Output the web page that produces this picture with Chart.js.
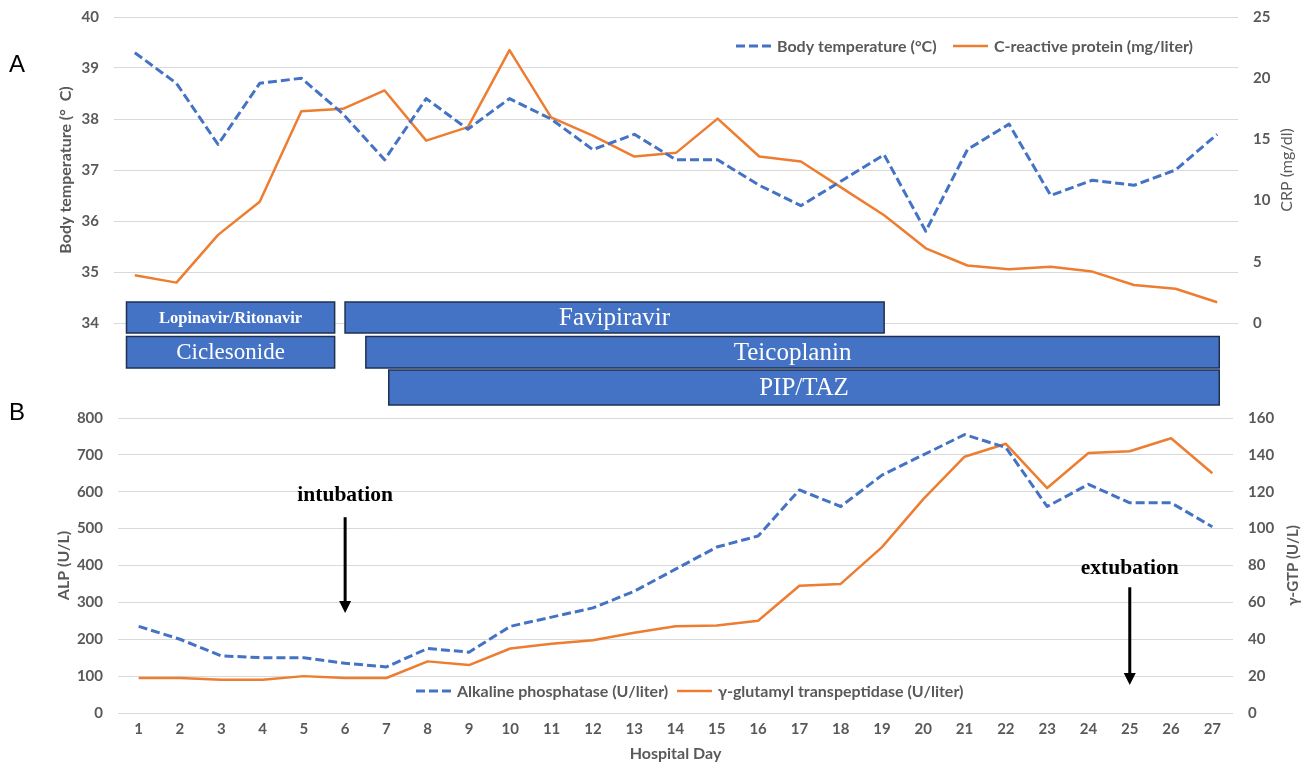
<!DOCTYPE html>
<html>
<head>
<meta charset="utf-8">
<script src="https://cdn.jsdelivr.net/npm/chart.js@4.4.0/dist/chart.umd.min.js"></script>
<style>
  body { margin: 0; background: #fff; width: 1312px; height: 764px; position: relative; overflow: hidden; }
  canvas { position: absolute; left: 0; }
  #topChart { top: -7px; }
  #bottomChart { top: 394px; }
  .panel { position: absolute; font: 24px/24px "Liberation Sans", Arial, sans-serif; color: #000; z-index: 2; }
</style>
</head>
<body>
<canvas id="topChart" width="1312" height="417"></canvas>
<canvas id="bottomChart" width="1312" height="370"></canvas>
<div class="panel" style="left:9px; top:52px;">A</div>
<div class="panel" style="left:9px; top:400px;">B</div>
<script>
// hospital days
const days = ['1','2','3','4','5','6','7','8','9','10','11','12','13','14','15','16','17','18','19','20','21','22','23','24','25','26','27'];

// panel A
const bodyTemp = [39.3, 38.7, 37.5, 38.7, 38.8, 38.1, 37.2, 38.4, 37.8, 38.4, 38.0, 37.4, 37.7, 37.2, 37.2, 36.7, 36.3, 36.8, 37.3, 35.8, 37.4, 37.9, 36.5, 36.8, 36.7, 37.0, 37.7];
const crp = [3.9, 3.3, 7.2, 9.9, 17.3, 17.5, 19.0, 14.9, 16.0, 22.3, 16.8, 15.3, 13.6, 13.9, 16.7, 13.6, 13.2, 11.0, 8.8, 6.1, 4.7, 4.4, 4.6, 4.2, 3.1, 2.8, 1.7];

// drugs (start / end in hospital days)
const drugNames = ['Lopinavir/Ritonavir', 'Ciclesonide', 'Favipiravir', 'Teicoplanin', 'PIP/TAZ'];
const drugStart = [0.8, 0.8, 6.05, 6.55, 7.1];
const drugEnd = [5.8, 5.8, 19.0, 27.05, 27.05];
const drugRow = [0, 1, 0, 1, 2];

// panel B
const alp = [235, 200, 155, 150, 150, 135, 125, 175, 165, 235, 260, 285, 330, 390, 450, 480, 605, 560, 645, 700, 755, 720, 560, 620, 570, 570, 505];
const ggt = [19, 19, 18, 18, 20, 19, 19, 28, 26, 35, 37.5, 39.5, 43.5, 47, 47.5, 50, 69, 70, 90, 116, 139, 146, 122, 141, 142, 149, 130];

const annotDays = [6, 25];
const annotLabels = ['intubation', 'extubation'];

const BLUE = '#4472C4';
const ORANGE = '#ED7D31';
const GREY = '#595959';
const GRID = '#D9D9D9';

Chart.defaults.font.family = 'Lato, "Open Sans", sans-serif';
Chart.defaults.color = GREY;

// legend drawn as a line sample + label, inside the plot
const lineLegend = {
    id: 'lineLegend',
    afterDraw(chart, args, opts) {
        const ctx = chart.ctx;
        ctx.save();
        ctx.font = opts.font;
        ctx.textBaseline = 'middle';
        chart.data.datasets.forEach((ds, i) => {
            const x = opts.xs[i];
            ctx.strokeStyle = ds.borderColor;
            ctx.lineWidth = ds.borderWidth;
            ctx.setLineDash(ds.borderDash || []);
            ctx.beginPath();
            ctx.moveTo(x, opts.y);
            ctx.lineTo(x + opts.sample, opts.y);
            ctx.stroke();
            ctx.fillStyle = GREY;
            ctx.fillText(ds.label, x + opts.sample + 6, opts.y + 1);
        });
        ctx.restore();
    }
};

// right axis title, reading bottom to top
const rightTitle = {
    id: 'rightTitle',
    afterDraw(chart, args, opts) {
        const ctx = chart.ctx, area = chart.chartArea;
        ctx.save();
        ctx.translate(area.right + opts.offset, (area.top + area.bottom) / 2);
        ctx.rotate(-Math.PI / 2);
        ctx.font = opts.font;
        ctx.fillStyle = GREY;
        ctx.textAlign = 'center';
        ctx.textBaseline = 'middle';
        ctx.fillText(opts.text, 0, 0);
        ctx.restore();
    }
};

// treatment boxes under panel A
const drugBars = {
    id: 'drugBars',
    afterDraw(chart, args, opts) {
        const ctx = chart.ctx, xs = chart.scales.x, base = chart.chartArea.bottom;
        ctx.save();
        drugNames.forEach((name, i) => {
            const row = opts.rows[drugRow[i]];
            const x0 = xs.getPixelForValue(drugStart[i] - 1);
            const x1 = xs.getPixelForValue(drugEnd[i] - 1);
            const y0 = base + row.top;
            ctx.fillStyle = BLUE;
            ctx.fillRect(x0, y0, x1 - x0, row.height);
            ctx.strokeStyle = '#1F3151';
            ctx.lineWidth = 1.5;
            ctx.strokeRect(x0, y0, x1 - x0, row.height);
            ctx.fillStyle = '#fff';
            ctx.font = opts.fonts[name] || opts.font;
            ctx.textAlign = 'center';
            ctx.textBaseline = 'middle';
            ctx.fillText(name, (x0 + x1) / 2, y0 + row.height / 2 + 1);
        });
        ctx.restore();
    }
};

// intubation / extubation arrows on panel B
const eventArrows = {
    id: 'eventArrows',
    afterDraw(chart, args, opts) {
        const ctx = chart.ctx, xs = chart.scales.x, ys = chart.scales.y;
        ctx.save();
        annotDays.forEach((d, i) => {
            const lv = opts.levels[i];
            const x = xs.getPixelForValue(d - 1);
            ctx.fillStyle = '#000';
            ctx.strokeStyle = '#000';
            ctx.font = opts.font;
            ctx.textAlign = 'center';
            ctx.textBaseline = 'middle';
            ctx.fillText(annotLabels[i], x, ys.getPixelForValue(lv.text));
            const yTop = ys.getPixelForValue(lv.top);
            const yTip = ys.getPixelForValue(lv.tip);
            ctx.lineWidth = 3;
            ctx.beginPath();
            ctx.moveTo(x, yTop);
            ctx.lineTo(x, yTip - 8);
            ctx.stroke();
            ctx.beginPath();
            ctx.moveTo(x - 6, yTip - 12);
            ctx.lineTo(x + 6, yTip - 12);
            ctx.lineTo(x, yTip);
            ctx.closePath();
            ctx.fill();
        });
        ctx.restore();
    }
};

const tickFont = { size: 15, weight: 'bold' };
const serif = '"Liberation Serif", "Times New Roman", serif';

new Chart(document.getElementById('topChart'), {
    type: 'line',
    data: {
        labels: days,
        datasets: [
            { label: 'Body temperature (°C)', data: bodyTemp, yAxisID: 'y', borderColor: BLUE, borderWidth: 3, borderDash: [9, 4], pointRadius: 0, tension: 0, borderJoinStyle: 'round' },
            { label: 'C-reactive protein (mg/liter)', data: crp, yAxisID: 'y1', borderColor: ORANGE, borderWidth: 2.5, pointRadius: 0, tension: 0, borderJoinStyle: 'round' }
        ]
    },
    options: {
        responsive: false,
        animation: false,
        devicePixelRatio: 1,
        events: [],
        layout: { padding: { left: 52, right: 0, top: 17, bottom: 87 } },
        plugins: {
            legend: { display: false },
            tooltip: { enabled: false },
            lineLegend: { xs: [736, 953], y: 53, sample: 35, font: 'bold 16px Lato, sans-serif' },
            rightTitle: { text: 'CRP (mg/dl)', offset: 49, font: '16px Lato, sans-serif' },
            drugBars: {
                rows: [{ top: -21, height: 31 }, { top: 13.5, height: 31.5 }, { top: 47, height: 35 }],
                font: '25px ' + serif,
                fonts: { 'Lopinavir/Ritonavir': 'bold 16.5px ' + serif, 'Ciclesonide': '23px ' + serif }
            }
        },
        scales: {
            x: { display: false, offset: true },
            y: {
                position: 'left', min: 34, max: 40,
                ticks: { stepSize: 1, padding: 15, font: tickFont, color: GREY },
                grid: { color: GRID, lineWidth: 1, drawTicks: false },
                border: { display: false },
                title: { display: true, text: 'Body temperature (°  C)', font: { size: 16, weight: 'bold' }, color: GREY },
                afterFit(scale) { scale.width = 62; }
            },
            y1: {
                position: 'right', min: 0, max: 25,
                ticks: { stepSize: 5, padding: 15, font: tickFont, color: GREY },
                grid: { display: false, drawTicks: false },
                border: { display: false },
                afterFit(scale) { scale.width = 74; }
            }
        }
    },
    plugins: [drugBars, lineLegend, rightTitle]
});

new Chart(document.getElementById('bottomChart'), {
    type: 'line',
    data: {
        labels: days,
        datasets: [
            { label: 'Alkaline phosphatase (U/liter)', data: alp, yAxisID: 'y', borderColor: BLUE, borderWidth: 3, borderDash: [9, 4], pointRadius: 0, tension: 0, borderJoinStyle: 'round' },
            { label: 'γ-glutamyl transpeptidase (U/liter)', data: ggt, yAxisID: 'y1', borderColor: ORANGE, borderWidth: 2.5, pointRadius: 0, tension: 0, borderJoinStyle: 'round' }
        ]
    },
    options: {
        responsive: false,
        animation: false,
        devicePixelRatio: 1,
        events: [],
        layout: { padding: { left: 50, right: 0, top: 13, bottom: 0 } },
        plugins: {
            legend: { display: false },
            tooltip: { enabled: false },
            lineLegend: { xs: [416, 677], y: 297, sample: 35, font: 'bold 16px Lato, sans-serif' },
            rightTitle: { text: 'γ-GTP (U/L)', offset: 60, font: 'bold 15px Lato, sans-serif' },
            eventArrows: {
                font: 'bold 21.5px ' + serif,
                levels: [{ text: 590, top: 531, tip: 271 }, { text: 393, top: 341, tip: 76 }]
            }
        },
        scales: {
            x: {
                offset: true,
                ticks: { padding: 7, font: tickFont, color: GREY, maxRotation: 0 },
                grid: { display: false, drawTicks: false },
                border: { display: false },
                title: { display: true, text: 'Hospital Day', font: { size: 16, weight: 'bold' }, color: GREY, padding: { top: 0, bottom: 1 } },
                afterFit(scale) { scale.height = 51; }
            },
            y: {
                position: 'left', min: 0, max: 800,
                ticks: { stepSize: 100, padding: 15, font: tickFont, color: GREY },
                grid: { color: GRID, lineWidth: 1, drawTicks: false },
                border: { display: false },
                title: { display: true, text: 'ALP (U/L)', font: { size: 16, weight: 'bold' }, color: GREY },
                afterFit(scale) { scale.width = 68; }
            },
            y1: {
                position: 'right', min: 0, max: 160,
                ticks: { stepSize: 20, padding: 15, font: tickFont, color: GREY },
                grid: { display: false, drawTicks: false },
                border: { display: false },
                afterFit(scale) { scale.width = 79; }
            }
        }
    },
    plugins: [eventArrows, lineLegend, rightTitle]
});
</script>
</body>
</html>
